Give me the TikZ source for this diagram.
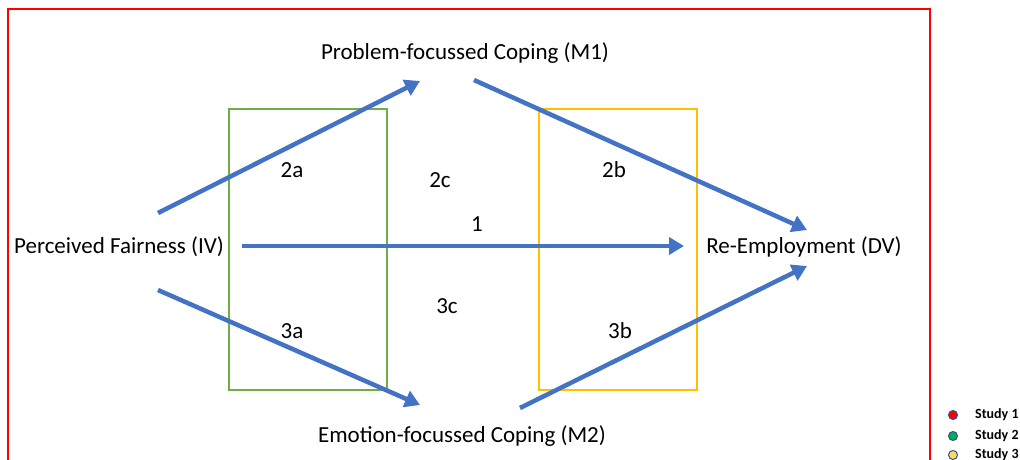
\documentclass[tikz,border=0pt]{standalone}
\usepackage{fontspec}
\setmainfont{Carlito}
\usetikzlibrary{arrows.meta}
\definecolor{arrowblue}{HTML}{4472C4}
\definecolor{frred}{HTML}{FF0000}
\definecolor{frgreen}{HTML}{70AD47}
\definecolor{fryellow}{HTML}{FFC000}
\definecolor{dotblue}{HTML}{2F528F}
\definecolor{dotgreen}{HTML}{00B050}
\definecolor{dotyellow}{HTML}{FFD966}
\begin{document}
\begin{tikzpicture}[x=1pt,y=-1pt,
  lbl/.style={font=\fontsize{23}{26}\selectfont, inner sep=0pt},
  num/.style={font=\fontsize{23}{26}\selectfont, inner sep=0pt},
  path/.style={draw=arrowblue, line width=4.5pt, -{Triangle[length=15pt,width=17pt]}},
  frame/.style={line width=2.5pt},
  dot/.style={circle, draw=dotblue, line width=1pt, minimum size=9pt, inner sep=0pt},
  leg/.style={font=\fontsize{14}{16}\selectfont\bfseries, anchor=west, inner sep=0pt}]
\useasboundingbox (0,0) rectangle (1020,460);
\begin{scope}
\clip (0,0) rectangle (1020,460);
\draw[frame, draw=frred] (8,9) rectangle (930,480);
\end{scope}
\draw[frame, draw=frgreen] (229,109) rectangle (387,390);
\draw[frame, draw=fryellow] (539,109) rectangle (697,390);
% text nodes
\node[lbl] (m1) at (465,53) {Problem-focussed Coping (M1)};
\node[lbl] (iv) at (119,247) {Perceived Fairness (IV)};
\node[lbl] (dv) at (804,247) {Re-Employment (DV)};
\node[lbl] (m2) at (462,436) {Emotion-focussed Coping (M2)};
% arrow endpoints
\coordinate (a2s) at (158,213); \coordinate (a2e) at (420,81);
\coordinate (b2s) at (474,80); \coordinate (b2e) at (807,230);
\coordinate (p1s) at (242,246); \coordinate (p1e) at (684,246);
\coordinate (a3s) at (158,290); \coordinate (a3e) at (420,405);
\coordinate (b3s) at (520,408); \coordinate (b3e) at (807,266);
\draw[path] (a2s) -- (a2e);
\draw[path] (b2s) -- (b2e);
\draw[path] (p1s) -- (p1e);
\draw[path] (a3s) -- (a3e);
\draw[path] (b3s) -- (b3e);
% path labels
\node[num] (l2a) at (292,170) {2a};
\node[num] (l2c) at (440,180) {2c};
\node[num] (l2b) at (614,170) {2b};
\node[num] (l1) at (477,224) {1};
\node[num] (l3c) at (447,306) {3c};
\node[num] (l3a) at (292,331) {3a};
\node[num] (l3b) at (620,331) {3b};
% legend
\node[dot, fill=frred] (d1) at (953,415) {};
\node[dot, fill=dotgreen] (d2) at (953,436) {};
\node[dot, fill=dotyellow] (d3) at (953,455) {};
\node[leg] (s1) at (975,415) {Study 1};
\node[leg] (s2) at (975,436) {Study 2};
\node[leg] (s3) at (975,455) {Study 3};
\end{tikzpicture}
\end{document}
